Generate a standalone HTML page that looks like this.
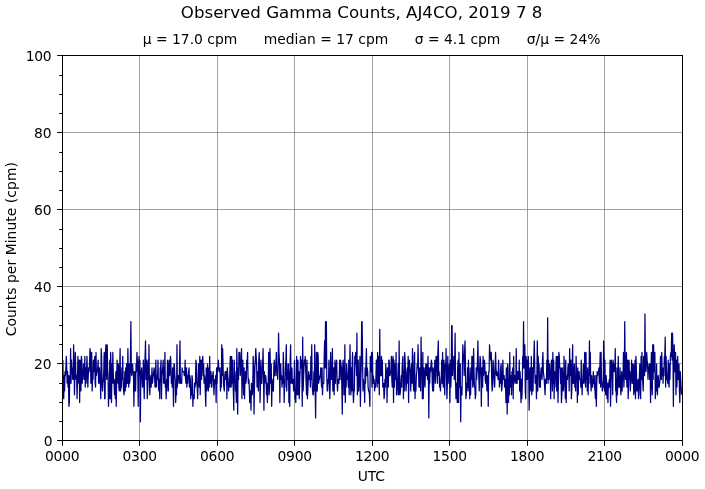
<!DOCTYPE html>
<html lang="en"><head><meta charset="utf-8"><title>Observed Gamma Counts, AJ4CO, 2019 7 8</title>
<style>html,body{margin:0;padding:0;background:#fff;overflow:hidden}svg{display:block}text{font-family:"DejaVu Sans","Liberation Sans",sans-serif;fill:#000}</style></head><body>
<svg width="705" height="489" viewBox="0 0 705 489">
<rect x="0" y="0" width="705" height="489" fill="#fff"/>
<g stroke="#808080" stroke-opacity="0.75" stroke-width="1" shape-rendering="crispEdges">
<line x1="139.5" y1="55.5" x2="139.5" y2="440.5"/>
<line x1="217.5" y1="55.5" x2="217.5" y2="440.5"/>
<line x1="294.5" y1="55.5" x2="294.5" y2="440.5"/>
<line x1="372.5" y1="55.5" x2="372.5" y2="440.5"/>
<line x1="449.5" y1="55.5" x2="449.5" y2="440.5"/>
<line x1="527.5" y1="55.5" x2="527.5" y2="440.5"/>
<line x1="604.5" y1="55.5" x2="604.5" y2="440.5"/>
<line x1="62.5" y1="363.5" x2="682.5" y2="363.5"/>
<line x1="62.5" y1="286.5" x2="682.5" y2="286.5"/>
<line x1="62.5" y1="209.5" x2="682.5" y2="209.5"/>
<line x1="62.5" y1="132.5" x2="682.5" y2="132.5"/>
</g>
<clipPath id="c"><rect x="62.5" y="55.5" width="620.0" height="385.0"/></clipPath>
<polyline clip-path="url(#c)" fill="none" stroke="#000080" stroke-width="1.25" stroke-linejoin="round" points="62.00,371.70 62.43,387.10 62.86,360.15 63.29,387.10 63.72,398.65 64.15,375.55 64.58,390.95 65.01,371.70 65.44,375.55 65.88,367.85 66.31,356.30 66.74,367.85 67.17,383.25 67.60,371.70 68.03,387.10 68.46,375.55 68.89,406.35 69.32,402.50 69.75,375.55 70.18,383.25 70.61,348.60 71.04,383.25 71.47,360.15 71.90,371.70 72.33,367.85 72.76,379.40 73.19,379.40 73.62,344.75 74.06,367.85 74.49,394.80 74.92,371.70 75.35,352.45 75.78,371.70 76.21,379.40 76.64,375.55 77.07,398.65 77.50,379.40 77.93,356.30 78.36,371.70 78.79,383.25 79.22,360.15 79.65,402.50 80.08,360.15 80.51,364.00 80.94,390.95 81.38,356.30 81.81,360.15 82.24,383.25 82.67,371.70 83.10,375.55 83.53,364.00 83.96,379.40 84.39,379.40 84.82,356.30 85.25,387.10 85.68,367.85 86.11,383.25 86.54,371.70 86.97,356.30 87.40,371.70 87.83,387.10 88.26,375.55 88.69,367.85 89.12,371.70 89.56,364.00 89.99,348.60 90.42,352.45 90.85,383.25 91.28,371.70 91.71,352.45 92.14,390.95 92.57,379.40 93.00,379.40 93.43,360.15 93.86,371.70 94.29,371.70 94.72,356.30 95.15,383.25 95.58,387.10 96.01,352.45 96.44,375.55 96.88,371.70 97.31,371.70 97.74,367.85 98.17,360.15 98.60,383.25 99.03,367.85 99.46,367.85 99.89,383.25 100.32,379.40 100.75,398.65 101.18,348.60 101.61,356.30 102.04,383.25 102.47,390.95 102.90,383.25 103.33,379.40 103.76,371.70 104.19,352.45 104.62,398.65 105.06,398.65 105.49,352.45 105.92,344.75 106.35,371.70 106.78,379.40 107.21,344.75 107.64,367.85 108.07,375.55 108.50,406.35 108.93,387.10 109.36,398.65 109.79,360.15 110.22,398.65 110.65,352.45 111.08,367.85 111.51,402.50 111.94,364.00 112.38,383.25 112.81,352.45 113.24,371.70 113.67,383.25 114.10,383.25 114.53,394.80 114.96,379.40 115.39,398.65 115.82,371.70 116.25,406.35 116.68,375.55 117.11,360.15 117.54,375.55 117.97,383.25 118.40,364.00 118.83,387.10 119.26,390.95 119.69,367.85 120.12,348.60 120.56,390.95 120.99,387.10 121.42,387.10 121.85,367.85 122.28,379.40 122.71,356.30 123.14,379.40 123.57,390.95 124.00,394.80 124.43,387.10 124.86,371.70 125.29,390.95 125.72,367.85 126.15,387.10 126.58,364.00 127.01,383.25 127.44,383.25 127.88,348.60 128.31,371.70 128.74,387.10 129.17,364.00 129.60,383.25 130.03,379.40 130.46,356.30 130.89,321.65 131.32,371.70 131.75,375.55 132.18,364.00 132.61,364.00 133.04,371.70 133.47,375.55 133.90,406.35 134.33,371.70 134.76,371.70 135.19,390.95 135.62,390.95 136.06,364.00 136.49,371.70 136.92,352.45 137.35,360.15 137.78,367.85 138.21,406.35 138.64,364.00 139.07,356.30 139.50,375.55 139.93,360.15 140.36,421.75 140.79,379.40 141.22,371.70 141.65,367.85 142.08,379.40 142.51,387.10 142.94,383.25 143.38,360.15 143.81,383.25 144.24,398.65 144.67,367.85 145.10,356.30 145.53,340.90 145.96,379.40 146.39,360.15 146.82,364.00 147.25,398.65 147.68,390.95 148.11,360.15 148.54,379.40 148.97,344.75 149.40,383.25 149.83,394.80 150.26,375.55 150.69,387.10 151.12,387.10 151.56,379.40 151.99,367.85 152.42,383.25 152.85,379.40 153.28,375.55 153.71,371.70 154.14,367.85 154.57,375.55 155.00,387.10 155.43,379.40 155.86,360.15 156.29,387.10 156.72,375.55 157.15,379.40 157.58,375.55 158.01,360.15 158.44,387.10 158.88,390.95 159.31,379.40 159.74,398.65 160.17,367.85 160.60,367.85 161.03,360.15 161.46,398.65 161.89,375.55 162.32,371.70 162.75,367.85 163.18,360.15 163.61,383.25 164.04,367.85 164.47,383.25 164.90,352.45 165.33,387.10 165.76,387.10 166.19,398.65 166.62,379.40 167.06,387.10 167.49,360.15 167.92,390.95 168.35,390.95 168.78,364.00 169.21,360.15 169.64,375.55 170.07,371.70 170.50,356.30 170.93,364.00 171.36,383.25 171.79,379.40 172.22,387.10 172.65,367.85 173.08,383.25 173.51,406.35 173.94,364.00 174.38,364.00 174.81,375.55 175.24,379.40 175.67,402.50 176.10,390.95 176.53,394.80 176.96,344.75 177.39,387.10 177.82,375.55 178.25,375.55 178.68,375.55 179.11,383.25 179.54,364.00 179.97,340.90 180.40,383.25 180.83,379.40 181.26,383.25 181.69,383.25 182.12,367.85 182.56,371.70 182.99,371.70 183.42,371.70 183.85,371.70 184.28,375.55 184.71,375.55 185.14,360.15 185.57,379.40 186.00,383.25 186.43,367.85 186.86,387.10 187.29,375.55 187.72,383.25 188.15,375.55 188.58,371.70 189.01,367.85 189.44,387.10 189.88,375.55 190.31,379.40 190.74,398.65 191.17,390.95 191.60,394.80 192.03,375.55 192.46,379.40 192.89,406.35 193.32,394.80 193.75,398.65 194.18,398.65 194.61,383.25 195.04,387.10 195.47,383.25 195.90,360.15 196.33,364.00 196.76,383.25 197.19,387.10 197.62,398.65 198.06,383.25 198.49,364.00 198.92,367.85 199.35,387.10 199.78,356.30 200.21,394.80 200.64,375.55 201.07,360.15 201.50,379.40 201.93,364.00 202.36,360.15 202.79,356.30 203.22,375.55 203.65,364.00 204.08,383.25 204.51,375.55 204.94,379.40 205.38,394.80 205.81,406.35 206.24,367.85 206.67,390.95 207.10,387.10 207.53,364.00 207.96,383.25 208.39,390.95 208.82,367.85 209.25,387.10 209.68,356.30 210.11,383.25 210.54,371.70 210.97,371.70 211.40,387.10 211.83,387.10 212.26,375.55 212.69,375.55 213.12,371.70 213.56,383.25 213.99,394.80 214.42,383.25 214.85,379.40 215.28,383.25 215.71,375.55 216.14,402.50 216.57,367.85 217.00,383.25 217.43,367.85 217.86,371.70 218.29,360.15 218.72,367.85 219.15,367.85 219.58,371.70 220.01,367.85 220.44,390.95 220.88,383.25 221.31,387.10 221.74,344.75 222.17,375.55 222.60,348.60 223.03,364.00 223.46,383.25 223.89,387.10 224.32,390.95 224.75,375.55 225.18,371.70 225.61,379.40 226.04,371.70 226.47,371.70 226.90,398.65 227.33,367.85 227.76,375.55 228.19,379.40 228.62,390.95 229.06,383.25 229.49,387.10 229.92,367.85 230.35,356.30 230.78,387.10 231.21,387.10 231.64,356.30 232.07,383.25 232.50,360.15 232.93,383.25 233.36,390.95 233.79,410.20 234.22,360.15 234.65,379.40 235.08,371.70 235.51,390.95 235.94,387.10 236.38,402.50 236.81,348.60 237.24,371.70 237.67,414.05 238.10,367.85 238.53,379.40 238.96,352.45 239.39,364.00 239.82,352.45 240.25,375.55 240.68,367.85 241.11,364.00 241.54,348.60 241.97,398.65 242.40,371.70 242.83,360.15 243.26,375.55 243.69,394.80 244.12,367.85 244.56,398.65 244.99,375.55 245.42,371.70 245.85,383.25 246.28,379.40 246.71,360.15 247.14,367.85 247.57,352.45 248.00,375.55 248.43,383.25 248.86,379.40 249.29,387.10 249.72,402.50 250.15,394.80 250.58,390.95 251.01,410.20 251.44,383.25 251.88,387.10 252.31,394.80 252.74,387.10 253.17,356.30 253.60,364.00 254.03,414.05 254.46,387.10 254.89,367.85 255.32,360.15 255.75,348.60 256.18,356.30 256.61,364.00 257.04,387.10 257.47,371.70 257.90,375.55 258.33,390.95 258.76,360.15 259.19,352.45 259.62,367.85 260.06,402.50 260.49,383.25 260.92,360.15 261.35,383.25 261.78,383.25 262.21,371.70 262.64,364.00 263.07,348.60 263.50,375.55 263.93,410.20 264.36,371.70 264.79,383.25 265.22,375.55 265.65,375.55 266.08,379.40 266.51,394.80 266.94,383.25 267.38,402.50 267.81,387.10 268.24,383.25 268.67,352.45 269.10,394.80 269.53,387.10 269.96,348.60 270.39,364.00 270.82,383.25 271.25,364.00 271.68,406.35 272.11,379.40 272.54,383.25 272.97,390.95 273.40,390.95 273.83,367.85 274.26,360.15 274.69,375.55 275.12,375.55 275.56,367.85 275.99,360.15 276.42,352.45 276.85,375.55 277.28,371.70 277.71,379.40 278.14,364.00 278.57,333.20 279.00,352.45 279.43,360.15 279.86,402.50 280.29,367.85 280.72,364.00 281.15,379.40 281.58,375.55 282.01,387.10 282.44,379.40 282.88,383.25 283.31,352.45 283.74,371.70 284.17,402.50 284.60,383.25 285.03,387.10 285.46,367.85 285.89,360.15 286.32,344.75 286.75,390.95 287.18,371.70 287.61,379.40 288.04,364.00 288.47,364.00 288.90,402.50 289.33,371.70 289.76,406.35 290.19,360.15 290.62,344.75 291.06,383.25 291.49,375.55 291.92,367.85 292.35,383.25 292.78,383.25 293.21,379.40 293.64,390.95 294.07,383.25 294.50,360.15 294.93,398.65 295.36,398.65 295.79,402.50 296.22,383.25 296.65,356.30 297.08,394.80 297.51,379.40 297.94,360.15 298.38,394.80 298.81,371.70 299.24,398.65 299.67,383.25 300.10,371.70 300.53,356.30 300.96,367.85 301.39,360.15 301.82,367.85 302.25,406.35 302.68,337.05 303.11,390.95 303.54,379.40 303.97,367.85 304.40,360.15 304.83,364.00 305.26,356.30 305.69,367.85 306.12,383.25 306.56,394.80 306.99,360.15 307.42,398.65 307.85,390.95 308.28,379.40 308.71,371.70 309.14,375.55 309.57,379.40 310.00,375.55 310.43,387.10 310.86,356.30 311.29,379.40 311.72,344.75 312.15,383.25 312.58,390.95 313.01,394.80 313.44,394.80 313.88,371.70 314.31,390.95 314.74,344.75 315.17,387.10 315.60,417.90 316.03,379.40 316.46,352.45 316.89,390.95 317.32,390.95 317.75,352.45 318.18,356.30 318.61,383.25 319.04,379.40 319.47,379.40 319.90,375.55 320.33,375.55 320.76,367.85 321.19,379.40 321.62,387.10 322.06,367.85 322.49,394.80 322.92,383.25 323.35,383.25 323.78,383.25 324.21,356.30 324.64,340.90 325.07,367.85 325.50,321.65 325.93,367.85 326.36,321.65 326.79,375.55 327.22,390.95 327.65,390.95 328.08,379.40 328.51,383.25 328.94,360.15 329.38,379.40 329.81,398.65 330.24,383.25 330.67,352.45 331.10,375.55 331.53,379.40 331.96,375.55 332.39,348.60 332.82,390.95 333.25,383.25 333.68,367.85 334.11,394.80 334.54,379.40 334.97,360.15 335.40,383.25 335.83,367.85 336.26,364.00 336.69,360.15 337.12,383.25 337.56,390.95 337.99,379.40 338.42,383.25 338.85,383.25 339.28,375.55 339.71,360.15 340.14,379.40 340.57,360.15 341.00,364.00 341.43,367.85 341.86,387.10 342.29,414.05 342.72,367.85 343.15,360.15 343.58,367.85 344.01,394.80 344.44,387.10 344.88,344.75 345.31,402.50 345.74,375.55 346.17,387.10 346.60,364.00 347.03,371.70 347.46,379.40 347.89,375.55 348.32,387.10 348.75,360.15 349.18,394.80 349.61,375.55 350.04,344.75 350.47,379.40 350.90,394.80 351.33,367.85 351.76,390.95 352.19,364.00 352.62,352.45 353.06,390.95 353.49,402.50 353.92,390.95 354.35,390.95 354.78,356.30 355.21,364.00 355.64,352.45 356.07,360.15 356.50,375.55 356.93,333.20 357.36,394.80 357.79,387.10 358.22,360.15 358.65,390.95 359.08,383.25 359.51,383.25 359.94,356.30 360.38,406.35 360.81,379.40 361.24,367.85 361.67,321.65 362.10,321.65 362.53,352.45 362.96,390.95 363.39,379.40 363.82,387.10 364.25,383.25 364.68,402.50 365.11,367.85 365.54,383.25 365.97,364.00 366.40,348.60 366.83,375.55 367.26,367.85 367.69,371.70 368.12,387.10 368.56,390.95 368.99,390.95 369.42,394.80 369.85,406.35 370.28,356.30 370.71,371.70 371.14,367.85 371.57,352.45 372.00,387.10 372.43,352.45 372.86,383.25 373.29,375.55 373.72,383.25 374.15,379.40 374.58,390.95 375.01,387.10 375.44,387.10 375.88,379.40 376.31,360.15 376.74,360.15 377.17,387.10 377.60,352.45 378.03,383.25 378.46,356.30 378.89,375.55 379.32,394.80 379.75,329.35 380.18,375.55 380.61,375.55 381.04,375.55 381.47,356.30 381.90,375.55 382.33,360.15 382.76,387.10 383.19,383.25 383.62,383.25 384.06,398.65 384.49,394.80 384.92,379.40 385.35,387.10 385.78,364.00 386.21,371.70 386.64,371.70 387.07,402.50 387.50,367.85 387.93,375.55 388.36,387.10 388.79,360.15 389.22,360.15 389.65,375.55 390.08,375.55 390.51,371.70 390.94,371.70 391.38,356.30 391.81,379.40 392.24,387.10 392.67,360.15 393.10,356.30 393.53,402.50 393.96,360.15 394.39,387.10 394.82,367.85 395.25,364.00 395.68,379.40 396.11,352.45 396.54,394.80 396.97,394.80 397.40,387.10 397.83,375.55 398.26,364.00 398.69,394.80 399.12,340.90 399.56,383.25 399.99,394.80 400.42,390.95 400.85,383.25 401.28,375.55 401.71,387.10 402.14,367.85 402.57,360.15 403.00,356.30 403.43,398.65 403.86,371.70 404.29,390.95 404.72,352.45 405.15,360.15 405.58,379.40 406.01,390.95 406.44,383.25 406.88,371.70 407.31,367.85 407.74,383.25 408.17,356.30 408.60,402.50 409.03,371.70 409.46,360.15 409.89,367.85 410.32,371.70 410.75,390.95 411.18,375.55 411.61,364.00 412.04,383.25 412.47,348.60 412.90,379.40 413.33,383.25 413.76,390.95 414.19,356.30 414.62,352.45 415.06,398.65 415.49,383.25 415.92,390.95 416.35,375.55 416.78,371.70 417.21,364.00 417.64,367.85 418.07,344.75 418.50,367.85 418.93,387.10 419.36,387.10 419.79,367.85 420.22,383.25 420.65,390.95 421.08,337.05 421.51,371.70 421.94,367.85 422.38,398.65 422.81,352.45 423.24,398.65 423.67,367.85 424.10,367.85 424.53,383.25 424.96,387.10 425.39,371.70 425.82,364.00 426.25,375.55 426.68,367.85 427.11,364.00 427.54,379.40 427.97,356.30 428.40,375.55 428.83,417.90 429.26,367.85 429.69,383.25 430.12,367.85 430.56,371.70 430.99,364.00 431.42,360.15 431.85,364.00 432.28,383.25 432.71,390.95 433.14,367.85 433.57,390.95 434.00,375.55 434.43,371.70 434.86,360.15 435.29,383.25 435.72,367.85 436.15,356.30 436.58,356.30 437.01,375.55 437.44,383.25 437.88,352.45 438.31,340.90 438.74,375.55 439.17,371.70 439.60,387.10 440.03,383.25 440.46,390.95 440.89,379.40 441.32,375.55 441.75,360.15 442.18,383.25 442.61,352.45 443.04,383.25 443.47,387.10 443.90,360.15 444.33,371.70 444.76,394.80 445.19,364.00 445.62,371.70 446.06,348.60 446.49,375.55 446.92,398.65 447.35,383.25 447.78,356.30 448.21,383.25 448.64,367.85 449.07,367.85 449.50,364.00 449.93,402.50 450.36,360.15 450.79,387.10 451.22,375.55 451.65,325.50 452.08,325.50 452.51,375.55 452.94,360.15 453.38,367.85 453.81,356.30 454.24,379.40 454.67,364.00 455.10,333.20 455.53,379.40 455.96,398.65 456.39,390.95 456.82,383.25 457.25,402.50 457.68,367.85 458.11,360.15 458.54,402.50 458.97,352.45 459.40,387.10 459.83,379.40 460.26,364.00 460.69,421.75 461.12,387.10 461.56,394.80 461.99,394.80 462.42,364.00 462.85,344.75 463.28,356.30 463.71,356.30 464.14,375.55 464.57,352.45 465.00,340.90 465.43,364.00 465.86,398.65 466.29,394.80 466.72,383.25 467.15,387.10 467.58,367.85 468.01,390.95 468.44,360.15 468.88,387.10 469.31,379.40 469.74,398.65 470.17,367.85 470.60,394.80 471.03,375.55 471.46,379.40 471.89,356.30 472.32,356.30 472.75,387.10 473.18,383.25 473.61,348.60 474.04,371.70 474.47,387.10 474.90,387.10 475.33,398.65 475.76,394.80 476.19,367.85 476.62,379.40 477.06,371.70 477.49,360.15 477.92,340.90 478.35,367.85 478.78,375.55 479.21,390.95 479.64,371.70 480.07,356.30 480.50,360.15 480.93,375.55 481.36,406.35 481.79,367.85 482.22,375.55 482.65,387.10 483.08,356.30 483.51,375.55 483.94,371.70 484.38,360.15 484.81,364.00 485.24,379.40 485.67,383.25 486.10,371.70 486.53,383.25 486.96,390.95 487.39,375.55 487.82,379.40 488.25,406.35 488.68,371.70 489.11,371.70 489.54,344.75 489.97,352.45 490.40,356.30 490.83,360.15 491.26,352.45 491.69,379.40 492.12,390.95 492.56,387.10 492.99,360.15 493.42,364.00 493.85,375.55 494.28,383.25 494.71,387.10 495.14,367.85 495.57,352.45 496.00,367.85 496.43,375.55 496.86,371.70 497.29,375.55 497.72,375.55 498.15,379.40 498.58,360.15 499.01,371.70 499.44,387.10 499.88,379.40 500.31,383.25 500.74,367.85 501.17,364.00 501.60,390.95 502.03,387.10 502.46,379.40 502.89,360.15 503.32,379.40 503.75,379.40 504.18,375.55 504.61,387.10 505.04,383.25 505.47,379.40 505.90,402.50 506.33,367.85 506.76,379.40 507.19,414.05 507.62,364.00 508.06,367.85 508.49,402.50 508.92,379.40 509.35,394.80 509.78,352.45 510.21,387.10 510.64,375.55 511.07,375.55 511.50,394.80 511.93,371.70 512.36,375.55 512.79,367.85 513.22,398.65 513.65,356.30 514.08,383.25 514.51,379.40 514.94,375.55 515.38,375.55 515.81,383.25 516.24,348.60 516.67,383.25 517.10,383.25 517.53,371.70 517.96,371.70 518.39,379.40 518.82,379.40 519.25,360.15 519.68,390.95 520.11,371.70 520.54,383.25 520.97,402.50 521.40,379.40 521.83,398.65 522.26,387.10 522.69,356.30 523.12,367.85 523.56,321.65 523.99,367.85 524.42,364.00 524.85,344.75 525.28,390.95 525.71,398.65 526.14,356.30 526.57,379.40 527.00,360.15 527.43,379.40 527.86,371.70 528.29,356.30 528.72,375.55 529.15,410.20 529.58,383.25 530.01,367.85 530.44,383.25 530.88,390.95 531.31,356.30 531.74,394.80 532.17,387.10 532.60,367.85 533.03,390.95 533.46,367.85 533.89,356.30 534.32,340.90 534.75,367.85 535.18,383.25 535.61,379.40 536.04,375.55 536.47,398.65 536.90,375.55 537.33,340.90 537.76,390.95 538.19,356.30 538.62,371.70 539.06,364.00 539.49,387.10 539.92,375.55 540.35,387.10 540.78,371.70 541.21,367.85 541.64,371.70 542.07,379.40 542.50,360.15 542.93,352.45 543.36,371.70 543.79,375.55 544.22,379.40 544.65,387.10 545.08,394.80 545.51,379.40 545.94,383.25 546.38,383.25 546.81,360.15 547.24,379.40 547.67,317.80 548.10,383.25 548.53,360.15 548.96,379.40 549.39,364.00 549.82,371.70 550.25,371.70 550.68,398.65 551.11,364.00 551.54,360.15 551.97,371.70 552.40,390.95 552.83,352.45 553.26,383.25 553.69,360.15 554.12,398.65 554.56,371.70 554.99,387.10 555.42,375.55 555.85,371.70 556.28,356.30 556.71,390.95 557.14,360.15 557.57,356.30 558.00,402.50 558.43,379.40 558.86,352.45 559.29,356.30 559.72,367.85 560.15,367.85 560.58,383.25 561.01,367.85 561.44,402.50 561.88,394.80 562.31,367.85 562.74,379.40 563.17,390.95 563.60,387.10 564.03,356.30 564.46,371.70 564.89,383.25 565.32,398.65 565.75,360.15 566.18,402.50 566.61,379.40 567.04,375.55 567.47,379.40 567.90,367.85 568.33,364.00 568.76,367.85 569.19,390.95 569.62,348.60 570.06,375.55 570.49,364.00 570.92,360.15 571.35,398.65 571.78,390.95 572.21,367.85 572.64,344.75 573.07,383.25 573.50,383.25 573.93,371.70 574.36,364.00 574.79,387.10 575.22,375.55 575.65,390.95 576.08,356.30 576.51,371.70 576.94,371.70 577.38,402.50 577.81,367.85 578.24,394.80 578.67,371.70 579.10,371.70 579.53,379.40 579.96,379.40 580.39,379.40 580.82,387.10 581.25,360.15 581.68,379.40 582.11,394.80 582.54,379.40 582.97,383.25 583.40,364.00 583.83,383.25 584.26,375.55 584.69,352.45 585.12,379.40 585.56,387.10 585.99,352.45 586.42,379.40 586.85,371.70 587.28,390.95 587.71,367.85 588.14,394.80 588.57,375.55 589.00,383.25 589.43,340.90 589.86,375.55 590.29,352.45 590.72,383.25 591.15,390.95 591.58,375.55 592.01,387.10 592.44,387.10 592.88,383.25 593.31,371.70 593.74,383.25 594.17,375.55 594.60,387.10 595.03,390.95 595.46,398.65 595.89,375.55 596.32,406.35 596.75,383.25 597.18,371.70 597.61,375.55 598.04,371.70 598.47,371.70 598.90,367.85 599.33,383.25 599.76,371.70 600.19,352.45 600.62,387.10 601.06,352.45 601.49,379.40 601.92,383.25 602.35,390.95 602.78,387.10 603.21,387.10 603.64,340.90 604.07,356.30 604.50,390.95 604.93,360.15 605.36,390.95 605.79,394.80 606.22,375.55 606.65,383.25 607.08,398.65 607.51,383.25 607.94,402.50 608.38,383.25 608.81,387.10 609.24,379.40 609.67,387.10 610.10,360.15 610.53,406.35 610.96,387.10 611.39,360.15 611.82,364.00 612.25,367.85 612.68,394.80 613.11,360.15 613.54,371.70 613.97,371.70 614.40,364.00 614.83,371.70 615.26,348.60 615.69,390.95 616.12,390.95 616.56,402.50 616.99,367.85 617.42,394.80 617.85,375.55 618.28,356.30 618.71,387.10 619.14,379.40 619.57,387.10 620.00,367.85 620.43,379.40 620.86,394.80 621.29,387.10 621.72,371.70 622.15,390.95 622.58,375.55 623.01,379.40 623.44,352.45 623.88,387.10 624.31,375.55 624.74,321.65 625.17,367.85 625.60,379.40 626.03,364.00 626.46,352.45 626.89,387.10 627.32,371.70 627.75,360.15 628.18,398.65 628.61,383.25 629.04,360.15 629.47,379.40 629.90,371.70 630.33,390.95 630.76,379.40 631.19,375.55 631.62,360.15 632.06,383.25 632.49,383.25 632.92,364.00 633.35,364.00 633.78,394.80 634.21,390.95 634.64,367.85 635.07,360.15 635.50,398.65 635.93,356.30 636.36,367.85 636.79,390.95 637.22,390.95 637.65,383.25 638.08,379.40 638.51,398.65 638.94,394.80 639.38,375.55 639.81,364.00 640.24,383.25 640.67,398.65 641.10,356.30 641.53,379.40 641.96,352.45 642.39,375.55 642.82,383.25 643.25,390.95 643.68,356.30 644.11,356.30 644.54,375.55 644.97,313.95 645.40,360.15 645.83,371.70 646.26,367.85 646.69,352.45 647.12,360.15 647.56,364.00 647.99,379.40 648.42,367.85 648.85,367.85 649.28,364.00 649.71,379.40 650.14,364.00 650.57,402.50 651.00,367.85 651.43,352.45 651.86,383.25 652.29,394.80 652.72,344.75 653.15,379.40 653.58,344.75 654.01,364.00 654.44,371.70 654.88,352.45 655.31,398.65 655.74,387.10 656.17,390.95 656.60,364.00 657.03,387.10 657.46,394.80 657.89,379.40 658.32,375.55 658.75,387.10 659.18,387.10 659.61,383.25 660.04,379.40 660.47,356.30 660.90,379.40 661.33,379.40 661.76,352.45 662.19,375.55 662.62,367.85 663.06,383.25 663.49,367.85 663.92,375.55 664.35,356.30 664.78,356.30 665.21,337.05 665.64,387.10 666.07,356.30 666.50,371.70 666.93,379.40 667.36,379.40 667.79,383.25 668.22,360.15 668.65,383.25 669.08,387.10 669.51,364.00 669.94,379.40 670.38,356.30 670.81,352.45 671.24,356.30 671.67,333.20 672.10,360.15 672.53,333.20 672.96,352.45 673.39,406.35 673.82,364.00 674.25,344.75 674.68,371.70 675.11,367.85 675.54,352.45 675.97,394.80 676.40,360.15 676.83,387.10 677.26,375.55 677.69,356.30 678.12,379.40 678.56,364.00 678.99,364.00 679.42,390.95 679.85,402.50 680.28,371.70 680.71,379.40 681.14,387.10 681.57,394.80"/>
<g fill="#000">
<rect x="62.0" y="440.5" width="1" height="5.36"/>
<rect x="139.0" y="440.5" width="1" height="5.36"/>
<rect x="217.0" y="440.5" width="1" height="5.36"/>
<rect x="294.0" y="440.5" width="1" height="5.36"/>
<rect x="372.0" y="440.5" width="1" height="5.36"/>
<rect x="449.0" y="440.5" width="1" height="5.36"/>
<rect x="527.0" y="440.5" width="1" height="5.36"/>
<rect x="604.0" y="440.5" width="1" height="5.36"/>
<rect x="682.0" y="440.5" width="1" height="5.36"/>
<rect x="57.14" y="440.0" width="5.36" height="1"/>
<rect x="59.22" y="421.0" width="3.28" height="1"/>
<rect x="59.22" y="402.0" width="3.28" height="1"/>
<rect x="59.22" y="383.0" width="3.28" height="1"/>
<rect x="57.14" y="363.0" width="5.36" height="1"/>
<rect x="59.22" y="344.0" width="3.28" height="1"/>
<rect x="59.22" y="325.0" width="3.28" height="1"/>
<rect x="59.22" y="306.0" width="3.28" height="1"/>
<rect x="57.14" y="286.0" width="5.36" height="1"/>
<rect x="59.22" y="267.0" width="3.28" height="1"/>
<rect x="59.22" y="248.0" width="3.28" height="1"/>
<rect x="59.22" y="229.0" width="3.28" height="1"/>
<rect x="57.14" y="209.0" width="5.36" height="1"/>
<rect x="59.22" y="190.0" width="3.28" height="1"/>
<rect x="59.22" y="171.0" width="3.28" height="1"/>
<rect x="59.22" y="152.0" width="3.28" height="1"/>
<rect x="57.14" y="132.0" width="5.36" height="1"/>
<rect x="59.22" y="113.0" width="3.28" height="1"/>
<rect x="59.22" y="94.0" width="3.28" height="1"/>
<rect x="59.22" y="75.0" width="3.28" height="1"/>
<rect x="57.14" y="55.0" width="5.36" height="1"/>
</g>
<rect x="62.5" y="55.5" width="620.0" height="385.0" fill="none" stroke="#000" stroke-width="1" shape-rendering="crispEdges"/>
<g font-size="13.89px" text-anchor="middle">
<text x="62.15" y="460.8" letter-spacing="-0.22">0000</text>
<text x="139.65" y="460.8" letter-spacing="-0.22">0300</text>
<text x="217.15" y="460.8" letter-spacing="-0.22">0600</text>
<text x="294.65" y="460.8" letter-spacing="-0.22">0900</text>
<text x="372.15" y="460.8" letter-spacing="-0.22">1200</text>
<text x="449.65" y="460.8" letter-spacing="-0.22">1500</text>
<text x="527.15" y="460.8" letter-spacing="-0.22">1800</text>
<text x="604.65" y="460.8" letter-spacing="-0.22">2100</text>
<text x="682.15" y="460.8" letter-spacing="-0.22">0000</text>
<text x="371.3" y="481" letter-spacing="-0.15">UTC</text>
<text transform="translate(15.5,249.2) rotate(-90)" letter-spacing="0.06">Counts per Minute (cpm)</text>
<text x="371.6" y="44" xml:space="preserve" style="white-space:pre">μ = 17.0 cpm      median = 17 cpm      σ = 4.1 cpm      σ/μ = 24%</text>
</g>
<g font-size="13.89px" text-anchor="end">
<text x="52.66" y="445.8" letter-spacing="0">0</text>
<text x="51.7" y="368.8" letter-spacing="0">20</text>
<text x="51.7" y="291.8" letter-spacing="0">40</text>
<text x="51.7" y="214.8" letter-spacing="0">60</text>
<text x="51.7" y="137.8" letter-spacing="0">80</text>
<text x="51.46" y="60.8" letter-spacing="-0.25">100</text>
</g>
<text x="361.6" y="17.9" font-size="16.67px" text-anchor="middle">Observed Gamma Counts, AJ4CO, 2019 7 8</text>
</svg></body></html>
